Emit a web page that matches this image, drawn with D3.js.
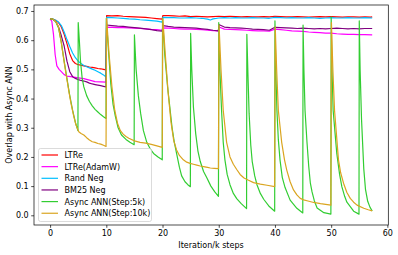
<!DOCTYPE html>
<html><head><meta charset="utf-8">
<script src="https://cdn.jsdelivr.net/npm/d3@7"></script>
<style>body{margin:0;background:#fff}svg{display:block;font-family:"DejaVu Sans",sans-serif}</style>
</head><body><svg id="c" width="398" height="255"></svg>
<script>
const seriesNames = ["LTRe","LTRe(AdamW)","Rand Neg","BM25 Neg","Async ANN(Step:5k)","Async ANN(Step:10k)"];
const seriesColors = ["#ff0000","#ff00ff","#00bfff","#800080","#32cd32","#daa520"];
const xTicks = [0,10,20,30,40,50,60];
const yTicks = [0.0,0.1,0.2,0.3,0.4,0.5,0.6,0.7];

const ltre = [[0,0.673],[0.5,0.671],[1,0.668],[1.5,0.66],[2,0.645],[2.5,0.62],[3,0.588],[3.5,0.553],[4,0.53],[4.5,0.52],[5,0.516],[5.5,0.514],[6,0.512],[6.5,0.51],[7,0.508],[7.5,0.507],[8,0.505],[8.5,0.503],[9,0.502],[9.5,0.5],[9.95,0.498],
[10.05,0.684],[11,0.683],[12,0.684],[13,0.682],[14,0.681],[15,0.68],[16,0.679],[17,0.678],[18,0.676],[19,0.674],[19.95,0.672],[20.05,0.684],[21,0.684],[22,0.683],[23,0.682],[24,0.683],[25,0.681],[26,0.682],[27,0.681],[28,0.68],[29,0.681],[30,0.682],[31,0.681],[32,0.682],[33,0.681],[34,0.68],[35,0.681],[36,0.68],[37,0.68],[38,0.681],[39,0.68],[40,0.682],[41,0.681],[42,0.68],[43,0.68],[44,0.681],[45,0.68],[46,0.679],[47,0.68],[48,0.681],[49,0.68],[50,0.681],[51,0.68],[52,0.679],[53,0.68],[54,0.68],[55,0.679],[56,0.68],[57,0.679],[57.3,0.68]];

const ltreAdamW = [[0,0.673],[0.3,0.665],[0.6,0.62],[0.9,0.55],[1.2,0.512],[1.6,0.5],[2,0.492],[2.5,0.482],[3,0.477],[4,0.474],[5,0.471],[6,0.468],[7,0.463],[8,0.458],[9,0.457],[9.95,0.456],
[10.05,0.645],[11,0.644],[12,0.643],[13,0.643],[14,0.642],[15,0.641],[16,0.64],[17,0.639],[18,0.637],[19,0.636],[19.95,0.634],[20.05,0.642],[21,0.641],[22,0.64],[23,0.639],[24,0.638],[25,0.638],[26,0.637],[27,0.636],[28,0.634],[29,0.633],[29.95,0.632],[30.05,0.645],[31,0.638],[32,0.637],[33,0.636],[34,0.635],[35,0.634],[36,0.633],[37,0.632],[38,0.632],[39,0.631],[40,0.638],[41,0.636],[42,0.634],[43,0.632],[44,0.631],[45,0.63],[46,0.628],[47,0.627],[48,0.626],[49,0.624],[50,0.624],[51,0.622],[52,0.621],[53,0.62],[54,0.62],[55,0.619],[56,0.619],[57.3,0.618]];

const randNeg = [[0,0.673],[0.5,0.672],[1,0.668],[1.5,0.662],[2,0.65],[2.5,0.628],[3,0.602],[3.5,0.578],[4,0.556],[4.5,0.54],[5,0.528],[5.5,0.52],[6,0.513],[6.5,0.509],[7,0.505],[7.5,0.501],[8,0.497],[8.5,0.492],[9,0.487],[9.5,0.481],[9.95,0.474],
[10.05,0.678],[11,0.677],[12,0.676],[13,0.675],[14,0.673],[15,0.672],[16,0.67],[17,0.669],[18,0.667],[19,0.665],[19.95,0.662],[20.05,0.678],[21,0.677],[22,0.677],[23,0.676],[24,0.676],[25,0.677],[26,0.676],[27,0.675],[28,0.672],[28.5,0.669],[29,0.673],[30,0.676],[31,0.677],[32,0.676],[33,0.677],[34,0.676],[35,0.676],[36,0.677],[37,0.676],[38,0.676],[39,0.675],[40,0.678],[41,0.677],[42,0.676],[43,0.677],[44,0.676],[45,0.676],[46,0.677],[47,0.676],[48,0.675],[49,0.676],[50,0.677],[51,0.676],[52,0.676],[53,0.677],[54,0.676],[55,0.676],[56,0.677],[57.3,0.676]];

const bm25Neg = [[0,0.673],[0.5,0.672],[1,0.664],[1.5,0.645],[2,0.615],[2.5,0.58],[3,0.528],[3.5,0.492],[4,0.475],[4.5,0.469],[5,0.465],[5.5,0.462],[6,0.46],[6.5,0.457],[7,0.453],[7.5,0.45],[8,0.448],[8.5,0.446],[9,0.444],[9.5,0.442],[9.95,0.44],
[10.05,0.652],[11,0.65],[12,0.648],[13,0.647],[14,0.645],[15,0.643],[16,0.641],[17,0.639],[18,0.636],[19,0.633],[19.95,0.631],[20.05,0.65],[21,0.647],[22,0.645],[23,0.644],[24,0.643],[25,0.642],[26,0.641],[27,0.639],[28,0.637],[29,0.634],[29.9,0.632],[30.1,0.653],[31,0.645],[32,0.643],[33,0.642],[34,0.641],[35,0.64],[36,0.638],[37,0.637],[38,0.636],[39,0.634],[40,0.644],[41,0.643],[42,0.642],[43,0.641],[44,0.64],[45,0.641],[46,0.64],[47,0.639],[48,0.64],[49,0.639],[50,0.64],[51,0.641],[52,0.64],[53,0.639],[54,0.64],[55,0.639],[56,0.64],[57.3,0.64]];

const async5k = [[0,0.673],[0.5,0.672],[1,0.663],[1.5,0.642],[2,0.592],[2.5,0.528],[3,0.468],[3.5,0.41],[4,0.36],[4.5,0.318],[4.95,0.29],
[5.0,0.66],[5.2,0.6],[5.4,0.53],[5.7,0.47],[6,0.44],[6.5,0.41],[7,0.39],[7.5,0.375],[8,0.363],[8.5,0.354],[9,0.345],[9.5,0.338],[9.95,0.332],
[10.0,0.675],[10.4,0.56],[10.8,0.45],[11.2,0.38],[11.6,0.34],[12.1,0.3],[12.7,0.275],[13.5,0.26],[14.2,0.25],[14.95,0.242],
[15.0,0.618],[15.3,0.5],[15.7,0.41],[16.1,0.35],[16.6,0.29],[17.2,0.25],[17.8,0.228],[18.4,0.212],[19.2,0.2],[19.95,0.19],
[20.0,0.675],[20.4,0.55],[20.9,0.44],[21.3,0.37],[21.7,0.3],[22.1,0.25],[22.5,0.212],[23,0.165],[23.4,0.135],[24,0.115],[24.5,0.105],[24.95,0.098],
[25.0,0.623],[25.2,0.5],[25.5,0.37],[25.9,0.28],[26.3,0.22],[26.7,0.185],[27.3,0.15],[27.9,0.128],[28.6,0.1],[29.3,0.08],[29.95,0.065],
[30.0,0.66],[30.2,0.5],[30.5,0.36],[30.8,0.25],[31.1,0.19],[31.5,0.14],[32,0.105],[32.6,0.075],[33.2,0.057],[34,0.04],[34.95,0.023],
[35.0,0.62],[35.2,0.48],[35.4,0.35],[35.7,0.24],[35.95,0.185],[36.4,0.135],[36.8,0.105],[37.4,0.075],[38,0.055],[39,0.03],[39.95,0.014],
[40.0,0.666],[40.15,0.5],[40.35,0.36],[40.6,0.26],[40.9,0.19],[41.3,0.13],[41.8,0.095],[42.7,0.052],[43.9,0.024],[44.95,0.008],
[45.0,0.652],[45.15,0.5],[45.35,0.36],[45.7,0.25],[46,0.17],[46.3,0.11],[46.6,0.08],[47.0,0.05],[47.5,0.025],[48.7,0.009],[49.95,0.004],
[50.0,0.68],[50.15,0.5],[50.35,0.36],[50.7,0.28],[51.0,0.212],[51.5,0.14],[51.9,0.098],[52.4,0.065],[52.8,0.045],[54,0.014],[54.95,0.004],
[55.0,0.666],[55.15,0.5],[55.4,0.33],[55.8,0.16],[56.1,0.09],[56.5,0.048],[56.9,0.028],[57.3,0.015]];

const async10k = [[0,0.673],[0.5,0.672],[1,0.664],[1.5,0.645],[2,0.59],[2.5,0.525],[3,0.465],[3.35,0.423],[3.7,0.385],[4.2,0.34],[4.6,0.31],[5.1,0.286],[5.5,0.28],[6,0.275],[6.5,0.266],[7,0.258],[7.5,0.252],[8,0.25],[8.5,0.246],[9,0.244],[9.5,0.24],[9.95,0.236],
[10.05,0.675],[10.5,0.55],[11,0.44],[11.5,0.36],[12,0.315],[12.5,0.29],[13,0.278],[13.5,0.27],[14,0.264],[15,0.255],[16,0.25],[17,0.247],[18,0.243],[19,0.238],[19.95,0.233],
[20.05,0.675],[20.5,0.55],[21,0.42],[21.5,0.32],[22,0.255],[22.5,0.224],[23,0.205],[23.7,0.19],[24.3,0.182],[24.9,0.178],[25.5,0.175],[26.1,0.172],[26.7,0.169],[27.3,0.167],[28,0.164],[28.5,0.162],[29.2,0.161],[29.95,0.16],
[30.05,0.652],[30.4,0.5],[30.8,0.36],[31.4,0.25],[32,0.2],[32.6,0.175],[33.2,0.157],[33.8,0.14],[34.5,0.128],[35.3,0.12],[36.2,0.112],[37.4,0.107],[38.6,0.103],[39.95,0.098],
[40.05,0.646],[40.3,0.5],[40.6,0.36],[41.2,0.25],[41.7,0.19],[42.1,0.155],[42.7,0.115],[43.3,0.087],[43.9,0.07],[44.5,0.058],[45.1,0.053],[45.7,0.05],[46.9,0.044],[48.1,0.04],[49.95,0.035],
[50.05,0.66],[50.3,0.5],[50.6,0.36],[51.3,0.19],[51.7,0.145],[52.2,0.11],[52.8,0.078],[53.4,0.058],[54,0.045],[54.6,0.035],[55.8,0.024],[56.6,0.019],[57.3,0.015]];

const seriesData = [ltre, ltreAdamW, randNeg, bm25Neg, async5k, async10k];

const svg = d3.select("#c");
const x = d3.scaleLinear().domain([-2.865, 60.165]).range([34, 388.3]);
const y = d3.scaleLinear().domain([-0.0332, 0.7205]).range([225, 5]);

const fs = 8;
// axes
const gx = svg.append("g").attr("transform","translate(0,225)")
  .call(d3.axisBottom(x).tickValues(xTicks).tickSize(2.8).tickPadding(2.5).tickFormat(d3.format("d")));
const gy = svg.append("g").attr("transform","translate(34,0)")
  .call(d3.axisLeft(y).tickValues(yTicks).tickSize(2.8).tickPadding(2.5).tickFormat(d3.format(".1f")));
[gx,gy].forEach(g=>{
  g.select(".domain").remove();
  g.selectAll(".tick line").attr("stroke","#000").attr("stroke-width",0.7);
  g.selectAll(".tick text").attr("font-size",fs).attr("font-family","DejaVu Sans").attr("fill","#000");
});

const clip = svg.append("clipPath").attr("id","pc").append("rect")
  .attr("x",34).attr("y",5).attr("width",354.3).attr("height",220);

const line = d3.line().x(d=>x(d[0])).y(d=>y(d[1]));
const lg = svg.append("g").attr("clip-path","url(#pc)");
seriesData.forEach((s,i)=>{
  lg.append("path").datum(s).attr("d",line).attr("fill","none")
    .attr("stroke",seriesColors[i]).attr("stroke-width",1.2).attr("stroke-linejoin","round");
});

// spines
svg.append("rect").attr("x",34).attr("y",5).attr("width",354.3).attr("height",220)
  .attr("fill","none").attr("stroke","#000").attr("stroke-width",0.7);

// labels
svg.append("text").attr("x",211).attr("y",247.5).attr("text-anchor","middle")
  .attr("font-size",fs).attr("fill","#000").text("Iteration/k steps");
svg.append("text").attr("transform","translate(11.5,115) rotate(-90)").attr("text-anchor","middle")
  .attr("font-size",fs).attr("fill","#000").text("Overlap with Async ANN");

// legend
const leg = svg.append("g");
leg.append("rect").attr("x",38.5).attr("y",148.5).attr("width",113).attr("height",73).attr("rx",2)
  .attr("fill","#fff").attr("fill-opacity",0.8).attr("stroke","#cccccc").attr("stroke-width",0.7);
seriesNames.forEach((n,i)=>{
  const yy = 155 + i*11.65;
  leg.append("line").attr("x1",41.5).attr("x2",58).attr("y1",yy).attr("y2",yy)
    .attr("stroke",seriesColors[i]).attr("stroke-width",1.2);
  leg.append("text").attr("x",64.5).attr("y",yy+2.9).attr("font-size",fs).attr("fill","#000").text(n);
});
</script></body></html>
